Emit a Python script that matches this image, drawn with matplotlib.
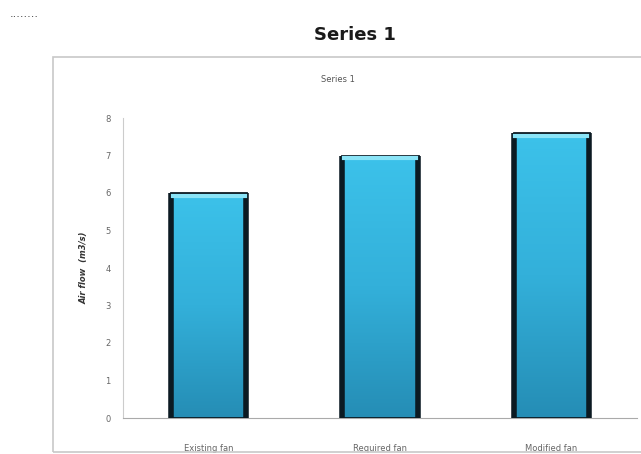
import numpy as np
import matplotlib.pyplot as plt
from matplotlib.patches import Rectangle
from matplotlib.colors import LinearSegmentedColormap

# chart data
categories = ["Existing fan", "Required fan", "Modified fan"]
air_flow = [6.0, 7.0, 7.6]
y_ticks = [0, 1, 2, 3, 4, 5, 6, 7, 8]

W, H = 641, 454
fig = plt.figure(figsize=(W / 100, H / 100), dpi=100)
fig.patch.set_facecolor("white")


# helper to convert pixel coords (top-left origin) into figure fractions
def fx(x):
    return x / W


def fy(y):
    return 1 - y / H


# outer chart frame
frame = Rectangle((fx(53), fy(452)), fx(641) - fx(53) + 0.01, fy(57) - fy(452),
                  transform=fig.transFigure, fill=False, edgecolor="#c8c8c8", lw=1.2)
fig.patches.append(frame)

# dotted mark top-left and titles
fig.text(fx(10), fy(14), "........", fontsize=8, color="#333333", va="center", ha="left")
fig.text(fx(355), fy(35), "Series 1", fontsize=13, fontweight="bold", color="#1a1a1a",
         ha="center", va="center")
fig.text(fx(338), fy(79), "Series 1", fontsize=6, color="#555555", ha="center", va="center")

ax = fig.add_axes([fx(123), fy(418), fx(637) - fx(123), fy(118) - fy(418)])
x = np.arange(len(categories))
bars = ax.bar(x, air_flow, width=0.44, color="#34aed6", edgecolor="none", zorder=2)

# gradient fill + dark sides + light top edge for each bar
grad = np.linspace(0, 1, 256).reshape(-1, 1)
cmap = LinearSegmentedColormap.from_list("bar", ["#258db5", "#33b0da", "#3cc2ea"])
for b in bars:
    x0, w, h = b.get_x(), b.get_width(), b.get_height()
    im = ax.imshow(grad, extent=[x0, x0 + w, 0, h], origin="lower", cmap=cmap,
                   aspect="auto", zorder=3)
    im.set_clip_path(b)
    ax.plot([x0, x0], [0, h], color="#0b1a22", lw=4, zorder=4, solid_capstyle="butt")
    ax.plot([x0 + w, x0 + w], [0, h], color="#0b1a22", lw=4, zorder=4, solid_capstyle="butt")
    ax.plot([x0, x0 + w], [h, h], color="#0b1a22", lw=2, zorder=4)
    ax.plot([x0 + 0.01, x0 + w - 0.01], [h - 0.07, h - 0.07], color="#8ae4f7", lw=3, zorder=4)
    ax.plot([x0, x0 + w], [0, 0], color="#0b1a22", lw=2, zorder=4)

ax.set_xlim(-0.5, 2.5)
ax.set_ylim(0, 8)
ax.set_yticks(y_ticks)
ax.set_yticklabels([str(v) for v in y_ticks])
ax.set_xticks(x)
ax.set_xticklabels(categories)
ax.tick_params(axis="both", length=0, labelsize=6, labelcolor="#666666")
ax.tick_params(axis="x", pad=19)
ax.tick_params(axis="y", pad=9)
for side in ["top", "right"]:
    ax.spines[side].set_visible(False)
ax.spines["left"].set_color("#cccccc")
ax.spines["bottom"].set_color("#aaaaaa")
ax.set_ylabel("Air flow  (m3/s)", fontsize=6, fontstyle="italic", fontweight="bold",
              color="#333333", labelpad=12)

fig.savefig("out.png", dpi=100)
